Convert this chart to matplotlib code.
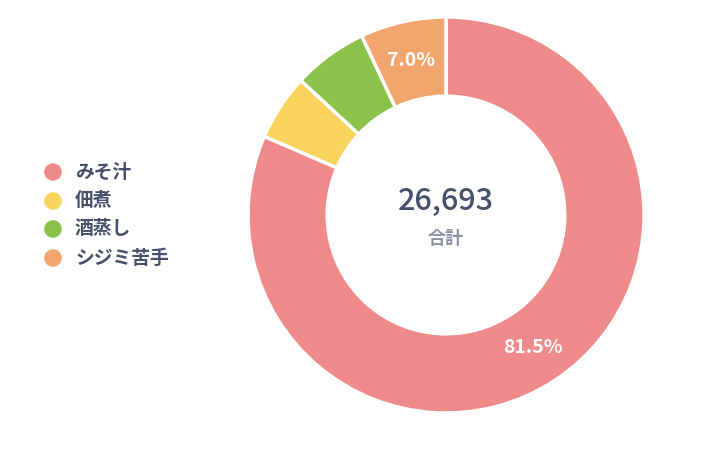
import matplotlib
matplotlib.use("Agg")
import matplotlib.pyplot as plt

categories = ["みそ汁", "佃煮", "酒蒸し", "シジミ苦手"]
values = [21755, 1440, 1630, 1868]
colors = ["#EF8A8A", "#F8D35E", "#8BC34A", "#F2A66E"]
total_label = "合計"

JP = ["Noto Sans CJK JP", "DejaVu Sans"]
TEXT_COLOR = "#46506B"

W, H = 720, 449
fig = plt.figure(figsize=(W / 100, H / 100), dpi=100)

cx, cy, R = 446, 215, 198
ax = fig.add_axes([(cx - R) / W, (H - cy - R) / H, 2 * R / W, 2 * R / H])
total = sum(values)

def fmt(p):
    return f"{p:.1f}%" if p >= 6.9 else ""

wedges, texts, autotexts = ax.pie(
    values, colors=colors, startangle=90, counterclock=False, radius=1.0,
    wedgeprops=dict(width=0.40, edgecolor="white", linewidth=2.5),
    autopct=fmt, pctdistance=0.80,
    textprops=dict(color="white", fontsize=14, fontweight="bold", family=JP),
)
ax.set_xlim(-1, 1)
ax.set_ylim(-1, 1)
ax.set_aspect("equal")
ax.axis("off")

ax.text(0, 0.07, f"{total:,}", ha="center", va="center", fontsize=22,
        color=TEXT_COLOR, family=JP, fontweight="medium")
ax.text(0, -0.12, total_label, ha="center", va="center", fontsize=13,
        color="#8A90A0", family=JP, fontweight="bold")

# legend
lax = fig.add_axes([0, 0, 1, 1])
lax.set_xlim(0, W)
lax.set_ylim(H, 0)
lax.axis("off")
ys = [172, 201, 229, 258]
for cat, col, y in zip(categories, colors, ys):
    lax.scatter([53], [y], s=160, color=col, edgecolors="none")
    lax.text(75, y, cat, ha="left", va="center", fontsize=13.5,
             color=TEXT_COLOR, family=JP, fontweight="bold")

fig.savefig("out.png", dpi=100)
